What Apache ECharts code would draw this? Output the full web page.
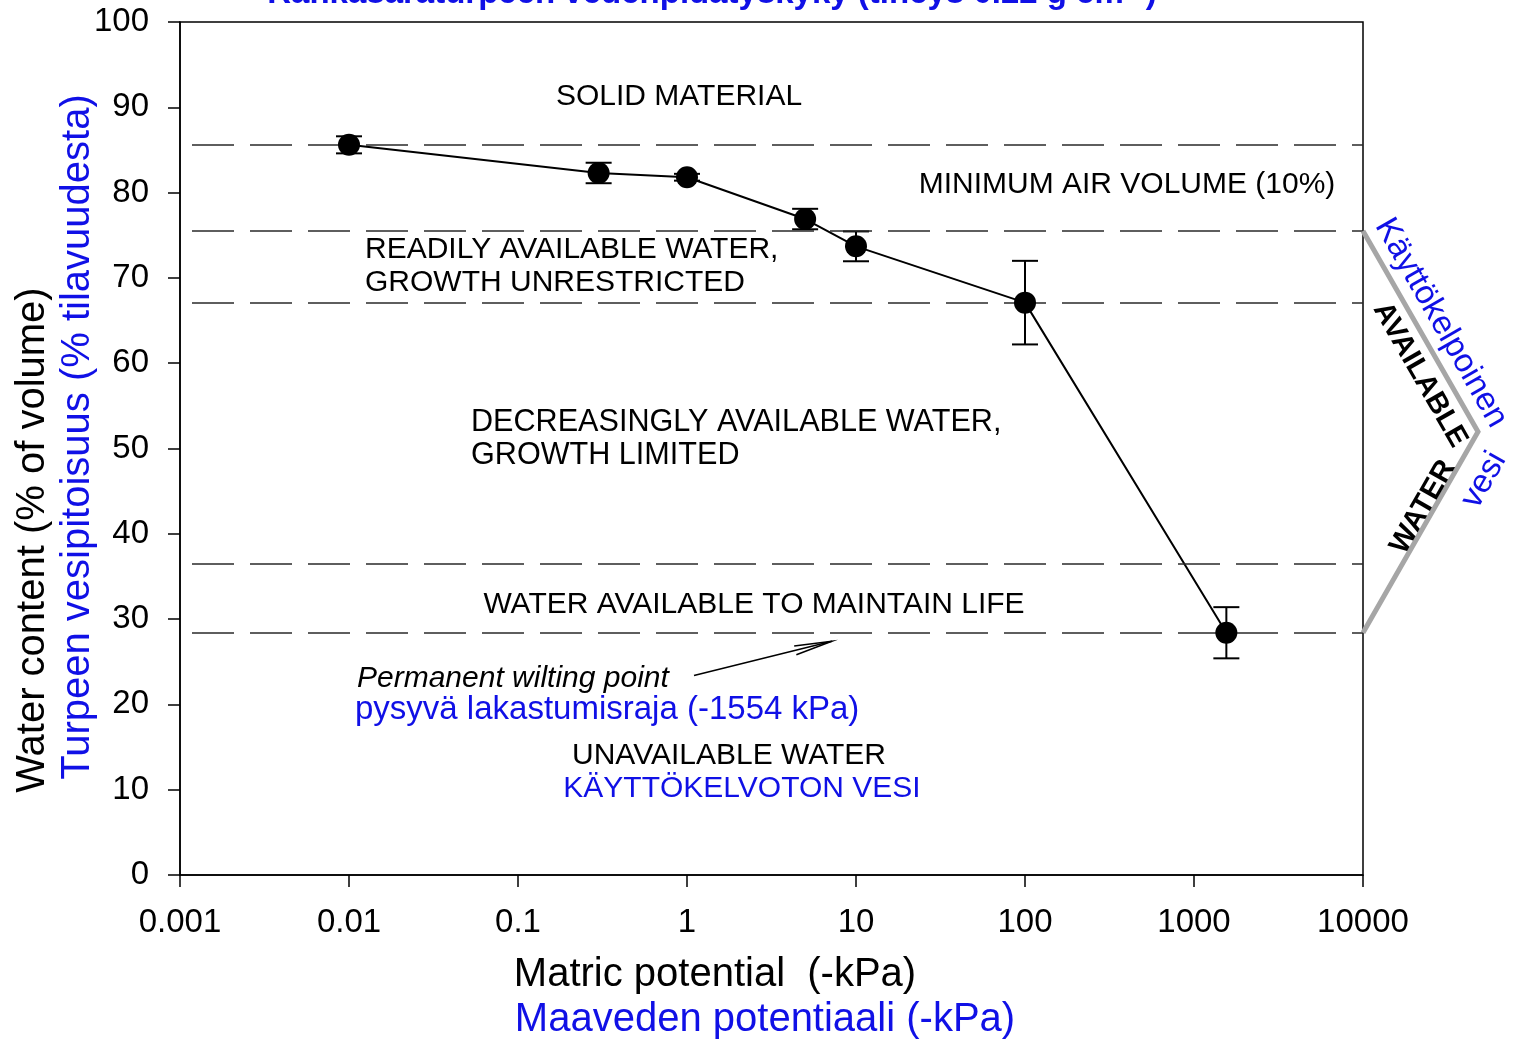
<!DOCTYPE html>
<html>
<head>
<meta charset="utf-8">
<script src="https://cdn.jsdelivr.net/npm/echarts@6/dist/echarts.min.js"></script>
<style>
  html, body { margin: 0; padding: 0; background: #fff; }
  #chart { width: 1518px; height: 1043px; }
</style>
</head>
<body>
<div id="chart"></div>
<script>
// Matric potential (-kPa) and measured volumetric water content (%)
const potentials   = [0.01, 0.3, 1, 5, 10, 100, 1554];
const waterContent = [85.6, 82.3, 81.8, 76.9, 73.7, 67.1, 28.4];
const stdErrors    = [1.0, 1.2, 0.4, 1.2, 1.75, 4.9, 3.0];

// Water class boundaries (% of volume)
const boundaries = [85.6, 75.5, 67.1, 36.5, 28.4];

// Axis ticks
const xTicks = ['0.001', '0.01', '0.1', '1', '10', '100', '1000', '10000'];
const yTicks = [0, 10, 20, 30, 40, 50, 60, 70, 80, 90, 100];

const FONT = '"Liberation Sans", Arial, sans-serif';
const BLUE = '#1010e6';

const chart = echarts.init(document.getElementById('chart'), null, { renderer: 'canvas' });

const points = potentials.map((p, i) => [p, waterContent[i]]);
const errData = potentials.map((p, i) => [p, waterContent[i], stdErrors[i]]);

const option = {
  animation: false,
  backgroundColor: '#fff',
  grid: {
    left: 180, right: 155, top: 22, bottom: 168,
    show: true, borderColor: '#000', borderWidth: 1.5, containLabel: false
  },
  xAxis: {
    type: 'log', logBase: 10,
    min: Number(xTicks[0]), max: Number(xTicks[xTicks.length - 1]),
    axisLine: { lineStyle: { color: '#000', width: 1.5 } },
    axisTick: { show: true, inside: false, length: 12, lineStyle: { color: '#000', width: 1.5 } },
    minorTick: { show: false },
    splitLine: { show: false },
    axisLabel: {
      color: '#000', fontSize: 33, fontFamily: FONT, margin: 31,
      formatter: v => {
        const e = Math.round(Math.log10(v));
        return xTicks[e + 3];
      }
    }
  },
  yAxis: {
    type: 'value', min: yTicks[0], max: yTicks[yTicks.length - 1], interval: 10,
    axisLine: { show: true, lineStyle: { color: '#000', width: 1.5 } },
    axisTick: { show: true, inside: false, length: 12, lineStyle: { color: '#000', width: 1.5 } },
    splitLine: { show: false },
    axisLabel: { color: '#000', fontSize: 33, fontFamily: FONT, margin: 31 }
  },
  series: [
    {
      // class boundaries drawn as dashed horizontal lines
      type: 'line', data: [], silent: true,
      markLine: {
        silent: true, symbol: ['none', 'none'],
        label: { show: false },
        lineStyle: { color: '#2a2a2a', width: 1.5, type: [42, 16], dashOffset: 46 },
        data: boundaries.map(v => ({ yAxis: v }))
      }
    },
    {
      // retention curve
      type: 'line', data: points, symbol: 'none',
      lineStyle: { color: '#000', width: 2 }, z: 3
    },
    {
      // standard error bars
      type: 'custom', data: errData, z: 4,
      renderItem: (params, api) => {
        const x = api.value(0), y = api.value(1), e = api.value(2);
        const top = api.coord([x, y + e]);
        const bot = api.coord([x, y - e]);
        const hw = 13;
        const style = { stroke: '#000', lineWidth: 2 };
        return {
          type: 'group',
          children: [
            { type: 'line', shape: { x1: top[0], y1: top[1], x2: bot[0], y2: bot[1] }, style },
            { type: 'line', shape: { x1: top[0] - hw, y1: top[1], x2: top[0] + hw, y2: top[1] }, style },
            { type: 'line', shape: { x1: bot[0] - hw, y1: bot[1], x2: bot[0] + hw, y2: bot[1] }, style }
          ]
        };
      }
    },
    {
      // measured means
      type: 'scatter', data: points, symbol: 'circle', symbolSize: 22,
      itemStyle: { color: '#000', opacity: 1 }, z: 5
    }
  ]
};

chart.setOption(option);

// ---- annotations ----
const g = [];
function txt(x, y, text, opts) {
  g.push({
    type: 'text', x, y, z: 100, silent: true,
    style: Object.assign({
      text, fill: '#000', fontSize: 30, fontFamily: FONT,
      textAlign: 'left', textVerticalAlign: 'middle'
    }, opts || {})
  });
}

// chart title (partly above the canvas)
txt(712, 10, 'Rahkasaraturpeen vedenpidätyskyky (tiheys 0.22 g cm⁻³)',
  { fill: BLUE, fontWeight: 'bold', fontSize: 33, textAlign: 'center', textVerticalAlign: 'bottom' });

// zone labels
txt(679, 97, 'SOLID MATERIAL', { textAlign: 'center' });
txt(1127, 185, 'MINIMUM AIR VOLUME (10%)', { textAlign: 'center' });
txt(365, 250, 'READILY AVAILABLE WATER,');
txt(365, 283, 'GROWTH UNRESTRICTED');
txt(471, 423, 'DECREASINGLY AVAILABLE WATER,', { fontSize: 30.6 });
txt(471, 456, 'GROWTH LIMITED', { fontSize: 30.6 });
txt(754, 605, 'WATER AVAILABLE TO MAINTAIN LIFE', { textAlign: 'center' });
txt(357, 679, 'Permanent wilting point', { fontStyle: 'italic' });
txt(355, 710, 'pysyvä lakastumisraja (-1554 kPa)', { fill: BLUE, fontSize: 33 });
txt(729, 756, 'UNAVAILABLE WATER', { textAlign: 'center' });
txt(742, 789, 'KÄYTTÖKELVOTON VESI', { textAlign: 'center', fill: BLUE });

// axis titles
txt(715, 975, 'Matric potential  (-kPa)', { fontSize: 40, textAlign: 'center' });
txt(765, 1020, 'Maaveden potentiaali (-kPa)', { fontSize: 40, textAlign: 'center', fill: BLUE });
g.push({
  type: 'text', x: 33, y: 540, rotation: Math.PI / 2, silent: true,
  style: { text: 'Water content (% of volume)', fill: '#000', fontSize: 40, fontFamily: FONT,
           textAlign: 'center', textVerticalAlign: 'middle' }
});
g.push({
  type: 'text', x: 78, y: 437, rotation: Math.PI / 2, silent: true,
  style: { text: 'Turpeen vesipitoisuus (% tilavuudesta)', fill: BLUE, fontSize: 40, fontFamily: FONT,
           textAlign: 'center', textVerticalAlign: 'middle' }
});

// arrow toward the wilting point line
const a0 = chart.convertToPixel({ gridIndex: 0 }, [1.1, 23.4]);
const a1 = chart.convertToPixel({ gridIndex: 0 }, [7.2, 27.4]);
const ang = Math.atan2(a1[1] - a0[1], a1[0] - a0[0]);
const hl = 38, ha = 0.12;
g.push({ type: 'line', silent: true, z: 100,
  shape: { x1: a0[0], y1: a0[1], x2: a1[0], y2: a1[1] }, style: { stroke: '#000', lineWidth: 1.5 } });
g.push({ type: 'polyline', silent: true, z: 100,
  shape: { points: [
    [a1[0] - hl * Math.cos(ang - ha), a1[1] - hl * Math.sin(ang - ha)],
    [a1[0], a1[1]],
    [a1[0] - hl * Math.cos(ang + ha), a1[1] - hl * Math.sin(ang + ha)]
  ] }, style: { stroke: '#000', lineWidth: 1.5, fill: 'none' } });

// available-water bracket on the right
const right = chart.convertToPixel({ gridIndex: 0 }, [Number(xTicks[xTicks.length - 1]), boundaries[1]]);
const low = chart.convertToPixel({ gridIndex: 0 }, [Number(xTicks[xTicks.length - 1]), boundaries[4]]);
const apex = [right[0] + 115, (right[1] + low[1]) / 2];
g.push({ type: 'polyline', silent: true, z: 100,
  shape: { points: [[right[0], right[1]], apex, [low[0], low[1]]] },
  style: { stroke: '#a6a6a6', lineWidth: 5, fill: 'none' } });

const rot = Math.atan2(apex[1] - right[1], apex[0] - right[0]);
g.push({ type: 'text', x: 1420, y: 375, rotation: -rot, silent: true, z: 100,
  style: { text: 'AVAILABLE', fill: '#000', fontWeight: 'bold', fontSize: 29, fontFamily: FONT,
           textAlign: 'center', textVerticalAlign: 'middle' } });
g.push({ type: 'text', x: 1423, y: 507, rotation: rot, silent: true, z: 100,
  style: { text: 'WATER', fill: '#000', fontWeight: 'bold', fontSize: 29, fontFamily: FONT,
           textAlign: 'center', textVerticalAlign: 'middle' } });
g.push({ type: 'text', x: 1441, y: 323, rotation: -rot, silent: true, z: 100,
  style: { text: 'Käyttökelpoinen', fill: BLUE, fontSize: 33, fontFamily: FONT,
           textAlign: 'center', textVerticalAlign: 'middle' } });
g.push({ type: 'text', x: 1484, y: 480, rotation: rot, silent: true, z: 100,
  style: { text: 'vesi', fill: BLUE, fontSize: 33, fontFamily: FONT,
           textAlign: 'center', textVerticalAlign: 'middle' } });

chart.setOption({ graphic: { elements: g } });
</script>
</body>
</html>
